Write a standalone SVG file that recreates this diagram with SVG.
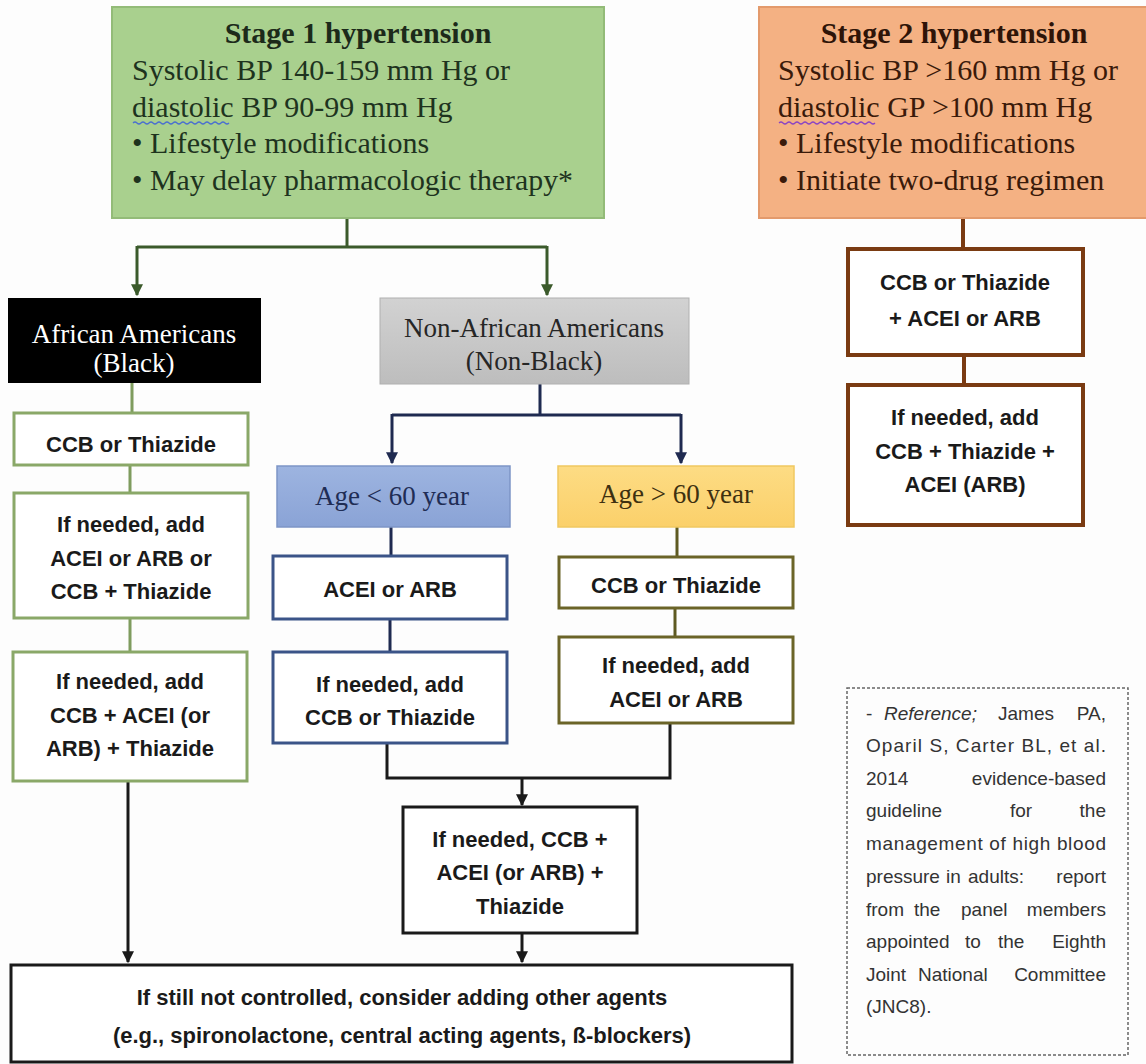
<svg xmlns="http://www.w3.org/2000/svg" width="1146" height="1064" viewBox="0 0 1146 1064">
<defs>
<style>
.serif{font-family:"Liberation Serif","Times New Roman",serif;}
.t30{font-size:30px;}
.t27{font-size:27px;}
.bx{font-family:"Liberation Sans",Arial,sans-serif;font-size:22px;font-weight:bold;fill:#1a1a1a;text-anchor:middle;}
.ref{font-family:"Liberation Sans",Arial,sans-serif;font-size:19px;fill:#333;}
.gbox{fill:#fff;stroke:#8aa868;stroke-width:3;}
.nbox{fill:#fff;stroke:#3b5488;stroke-width:3;}
.obox{fill:#fff;stroke:#6b6428;stroke-width:3;}
.kbox{fill:#fff;stroke:#1a1a1a;stroke-width:3;}
.brbox{fill:#fff;stroke:#7a3b12;stroke-width:4;}
.cg{stroke:#3b5a2b;stroke-width:3;fill:none;}
.cn{stroke:#1f2a50;stroke-width:3;fill:none;}
.ck{stroke:#1a1a1a;stroke-width:3;fill:none;}
.cgr{stroke:#7f9c5e;stroke-width:3;fill:none;}
.co{stroke:#5e5a22;stroke-width:3;fill:none;}
.cb{stroke:#7a3b12;stroke-width:4;fill:none;}
</style>
<marker id="ag" viewBox="0 0 10 10" refX="9" refY="5" markerWidth="4" markerHeight="4" orient="auto" markerUnits="strokeWidth"><path d="M0,0 L10,5 L0,10 z" fill="#3b5a2b"/></marker>
<marker id="an" viewBox="0 0 10 10" refX="9" refY="5" markerWidth="4" markerHeight="4" orient="auto" markerUnits="strokeWidth"><path d="M0,0 L10,5 L0,10 z" fill="#1f2a50"/></marker>
<marker id="ak" viewBox="0 0 10 10" refX="9" refY="5" markerWidth="4" markerHeight="4" orient="auto" markerUnits="strokeWidth"><path d="M0,0 L10,5 L0,10 z" fill="#1a1a1a"/></marker>
<linearGradient id="gGray" x1="0" y1="0" x2="0" y2="1"><stop offset="0" stop-color="#d2d2d2"/><stop offset="1" stop-color="#bdbdbd"/></linearGradient>
<linearGradient id="gBlue" x1="0" y1="0" x2="0" y2="1"><stop offset="0" stop-color="#9db4e0"/><stop offset="1" stop-color="#8aa3d6"/></linearGradient>
<linearGradient id="gGold" x1="0" y1="0" x2="0" y2="1"><stop offset="0" stop-color="#fddc84"/><stop offset="1" stop-color="#fbd06a"/></linearGradient>
</defs>
<rect width="1146" height="1064" fill="#fdfdfd"/>

<g id="connectors">
<path class="cg" d="M347,218 V247 M137,247 H547"/>
<path class="cg" d="M137,246 V295" marker-end="url(#ag)"/>
<path class="cg" d="M547,246 V295" marker-end="url(#ag)"/>
<path class="cgr" d="M132,383 V413 M130,465 V493 M130,618 V652"/>
<path class="ck" d="M128,781 V962" marker-end="url(#ak)"/>
<path class="cn" d="M540,384 V415 M392,415 H681"/>
<path class="cn" d="M392,414 V463" marker-end="url(#an)"/>
<path class="cn" d="M681,414 V463" marker-end="url(#an)"/>
<path class="cn" d="M391,527 V556 M390,619 V652"/>
<path class="co" d="M677,527 V557 M675,608 V637"/>
<path class="ck" d="M387,743 V778 H670 V723"/>
<path class="ck" d="M522,778 V805" marker-end="url(#ak)"/>
<path class="ck" d="M522,933 V962" marker-end="url(#ak)"/>
<path class="cb" d="M963,218 V249 M964,355 V385"/>
</g>

<g id="stage1">
<rect x="112" y="7" width="492" height="211" fill="#a9d08e" stroke="#93bb78" stroke-width="2"/>
<text class="serif t30" x="358" y="43" text-anchor="middle" font-weight="bold" fill="#1c2a1a">Stage 1 hypertension</text>
<text class="serif t30" fill="#1e331e"><tspan x="132" y="80">Systolic BP 140-159 mm Hg or</tspan><tspan x="132" y="117">diastolic BP 90-99 mm Hg</tspan><tspan x="132" y="153">• Lifestyle modifications</tspan><tspan x="132" y="190" textLength="441" lengthAdjust="spacingAndGlyphs">• May delay pharmacologic therapy*</tspan></text>
<path d="M133,123 q2,-2 4,0 t4,0 t4,0 t4,0 t4,0 t4,0 t4,0 t4,0 t4,0 t4,0 t4,0 t4,0 t4,0 t4,0 t4,0 t4,0 t4,0 t4,0 t4,0 t4,0 t4,0 t4,0 t4,0 t4,0" fill="none" stroke="#4a6fd0" stroke-width="1.2"/>
</g>

<g id="stage2">
<rect x="759" y="7" width="392" height="211" fill="#f4b183" stroke="#e39a6c" stroke-width="2"/>
<text class="serif t30" x="954" y="43" text-anchor="middle" font-weight="bold" fill="#2e1408">Stage 2 hypertension</text>
<text class="serif t30" fill="#3a1a0a"><tspan x="778" y="80">Systolic BP &gt;160 mm Hg or</tspan><tspan x="778" y="117">diastolic GP &gt;100 mm Hg</tspan><tspan x="778" y="153">• Lifestyle modifications</tspan><tspan x="778" y="190">• Initiate two-drug regimen</tspan></text>
<path d="M779,123 q2,-2 4,0 t4,0 t4,0 t4,0 t4,0 t4,0 t4,0 t4,0 t4,0 t4,0 t4,0 t4,0 t4,0 t4,0 t4,0 t4,0 t4,0 t4,0 t4,0 t4,0 t4,0 t4,0 t4,0 t4,0" fill="none" stroke="#8a44c4" stroke-width="1.2"/>
</g>

<g id="african">
<rect x="8" y="298" width="253" height="85" fill="#000"/>
<text class="serif t27" text-anchor="middle" fill="#fff"><tspan x="134" y="343">African Americans</tspan><tspan x="134" y="372">(Black)</tspan></text>
</g>

<g id="nonafrican">
<rect x="380" y="298" width="309" height="86" fill="url(#gGray)" stroke="#b0b0b0" stroke-width="1"/>
<text class="serif t27" text-anchor="middle" fill="#262626"><tspan x="534" y="337">Non-African Americans</tspan><tspan x="534" y="370">(Non-Black)</tspan></text>
</g>

<g id="aa-ccb">
<rect class="gbox" x="14" y="413" width="234" height="52"/>
<text class="bx" x="131" y="452">CCB or Thiazide</text>
</g>
<g id="aa-add1">
<rect class="gbox" x="14" y="493" width="234" height="125"/>
<text class="bx"><tspan x="131" y="532">If needed, add</tspan><tspan x="131" y="566">ACEI or ARB or</tspan><tspan x="131" y="599">CCB + Thiazide</tspan></text>
</g>
<g id="aa-add2">
<rect class="gbox" x="13" y="652" width="234" height="129"/>
<text class="bx"><tspan x="130" y="689">If needed, add</tspan><tspan x="130" y="723">CCB + ACEI (or</tspan><tspan x="130" y="756">ARB) + Thiazide</tspan></text>
</g>

<g id="age-lt60">
<rect x="277" y="466" width="233" height="61" fill="url(#gBlue)" stroke="#7d95c6" stroke-width="1.5"/>
<text class="serif t27" x="392" y="505" text-anchor="middle" fill="#1f2d55">Age &lt; 60 year</text>
</g>
<g id="lt60-acei">
<rect class="nbox" x="273" y="556" width="234" height="63"/>
<text class="bx" x="390" y="597">ACEI or ARB</text>
</g>
<g id="lt60-add">
<rect class="nbox" x="273" y="652" width="234" height="91"/>
<text class="bx"><tspan x="390" y="692">If needed, add</tspan><tspan x="390" y="725">CCB or Thiazide</tspan></text>
</g>

<g id="age-gt60">
<rect x="558" y="466" width="236" height="61" fill="url(#gGold)" stroke="#f0c860" stroke-width="1.5"/>
<text class="serif t27" x="676" y="503" text-anchor="middle" fill="#3e3010">Age &gt; 60 year</text>
</g>
<g id="gt60-ccb">
<rect class="obox" x="559" y="557" width="234" height="51"/>
<text class="bx" x="676" y="593">CCB or Thiazide</text>
</g>
<g id="gt60-add">
<rect class="obox" x="559" y="637" width="234" height="86"/>
<text class="bx"><tspan x="676" y="673">If needed, add</tspan><tspan x="676" y="707">ACEI or ARB</tspan></text>
</g>

<g id="triple">
<rect class="kbox" x="403" y="807" width="234" height="126"/>
<text class="bx"><tspan x="520" y="847">If needed, CCB +</tspan><tspan x="520" y="880">ACEI (or ARB) +</tspan><tspan x="520" y="914">Thiazide</tspan></text>
</g>

<g id="final">
<rect class="kbox" x="11" y="965" width="781" height="97"/>
<text class="bx" font-size="21"><tspan x="402" y="1005">If still not controlled, consider adding other agents</tspan><tspan x="402" y="1043">(e.g., spironolactone, central acting agents, ß-blockers)</tspan></text>
</g>

<g id="s2-two">
<rect class="brbox" x="848" y="249" width="235" height="106"/>
<text class="bx"><tspan x="965" y="290">CCB or Thiazide</tspan><tspan x="965" y="326">+ ACEI or ARB</tspan></text>
</g>
<g id="s2-add">
<rect class="brbox" x="848" y="385" width="235" height="140"/>
<text class="bx"><tspan x="965" y="425">If needed, add</tspan><tspan x="965" y="459">CCB + Thiazide +</tspan><tspan x="965" y="492">ACEI (ARB)</tspan></text>
</g>

<g id="reference">
<rect x="847" y="688" width="281" height="367" fill="#fdfdfd" stroke="#666" stroke-width="1.5" stroke-dasharray="3,2"/>
<text class="ref" x="866" y="720">-</text>
<text class="ref" x="884" y="720" font-style="italic">Reference;</text>
<text class="ref" x="998" y="720">James</text>
<text class="ref" x="1106" y="720" text-anchor="end">PA,</text>
<text class="ref" x="866" y="752" textLength="240" lengthAdjust="spacing">Oparil S, Carter BL, et al.</text>
<text class="ref" x="866" y="785">2014</text>
<text class="ref" x="1106" y="785" text-anchor="end">evidence-based</text>
<text class="ref" x="866" y="817">guideline</text>
<text class="ref" x="1010" y="817">for</text>
<text class="ref" x="1106" y="817" text-anchor="end">the</text>
<text class="ref" x="866" y="850" textLength="240" lengthAdjust="spacing">management of high blood</text>
<text class="ref" x="866" y="883">pressure</text>
<text class="ref" x="946" y="883">in</text>
<text class="ref" x="968" y="883">adults:</text>
<text class="ref" x="1106" y="883" text-anchor="end">report</text>
<text class="ref" x="866" y="916">from</text>
<text class="ref" x="914" y="916">the</text>
<text class="ref" x="961" y="916">panel</text>
<text class="ref" x="1106" y="916" text-anchor="end">members</text>
<text class="ref" x="866" y="948">appointed</text>
<text class="ref" x="965" y="948">to</text>
<text class="ref" x="998" y="948">the</text>
<text class="ref" x="1106" y="948" text-anchor="end">Eighth</text>
<text class="ref" x="866" y="981">Joint</text>
<text class="ref" x="918" y="981">National</text>
<text class="ref" x="1106" y="981" text-anchor="end">Committee</text>
<text class="ref" x="866" y="1013">(JNC8).</text>
</g>
</svg>
